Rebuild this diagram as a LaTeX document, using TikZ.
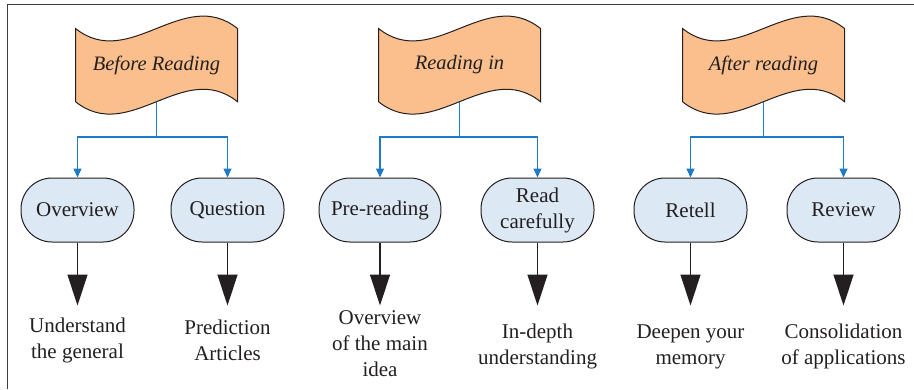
\documentclass[tikz,border=0pt]{standalone}
\usepackage{fontspec}
\setmainfont{Liberation Serif}
\usetikzlibrary{arrows.meta}
\definecolor{bannerfill}{RGB}{250,191,141}
\definecolor{nodefill}{RGB}{220,233,245}
\definecolor{linkblue}{RGB}{30,121,199}
\definecolor{edgegray}{RGB}{35,31,32}
\definecolor{framegray}{RGB}{60,60,60}
\begin{document}
\begin{tikzpicture}[x=1pt,y=-1pt,
  every node/.style={font=\fontsize{21}{26}\selectfont, text=edgegray},
  bannertext/.style={font=\fontsize{20.5}{26}\selectfont\itshape},
  stepnode/.style={draw=edgegray, line width=1pt, fill=nodefill, rounded corners=31pt,
    minimum width=113pt, minimum height=64pt, inner xsep=12pt, inner ysep=2pt, align=center},
  lbl/.style={align=center, inner sep=0pt},
  blueline/.style={draw=linkblue, line width=1.4pt},
  bluearrow/.style={blueline, -{Triangle[width=8pt,length=9pt]}},
  bigarrow/.style={draw=edgegray, line width=1.4pt, -{Triangle[width=20pt,length=31pt]}},
  banner/.pic={
    \draw[fill=bannerfill, draw=edgegray, line width=1pt]
      (-81,-36.5) .. controls (-27,6.5) and (27,-79.5) .. (81,-36.5)
      -- (81,36.7) .. controls (27,-6.3) and (-27,79.7) .. (-81,36.7) -- cycle;
  }
]
\useasboundingbox (0,0) rectangle (914,389);
\draw[framegray, line width=1.5pt] (7.5,389) -- (7.5,4.3) -- (914,4.3);

% banners
\pic at (156.5,65) {banner};
\pic at (459.5,65) {banner};
\pic at (763.5,65) {banner};
\node[bannertext] (b1) at (156.5,65) {Before Reading};
\node[bannertext] (b2) at (459.5,65) {Reading in};
\node[bannertext] (b3) at (763.5,65) {After reading};

\coordinate (b1s) at (156.5,101.7);
\coordinate (b2s) at (459.5,101.7);
\coordinate (b3s) at (763.5,101.7);
\coordinate (j1) at (156.5,137);
\coordinate (j2) at (459.5,137);
\coordinate (j3) at (763.5,137);

% step nodes
\node[stepnode] (n1) at (77.5,210) {Overview};
\node[stepnode] (n2) at (227.5,210) {Question};
\node[stepnode] (n3) at (380,210) {Pre-reading};
\node[stepnode] (n4) at (537.5,210) {Read\\carefully};
\node[stepnode] (n5) at (690.5,210) {Retell};
\node[stepnode] (n6) at (843.5,210) {Review};

% blue connectors
\draw[blueline] (b1s) -- (j1);
\draw[blueline] (b2s) -- (j2);
\draw[blueline] (b3s) -- (j3);
\draw[bluearrow] (j1) -| (n1.north);
\draw[bluearrow] (j1) -| (n2.north);
\draw[bluearrow] (j2) -| (n3.north);
\draw[bluearrow] (j2) -| (n4.north);
\draw[bluearrow] (j3) -| (n5.north);
\draw[bluearrow] (j3) -| (n6.north);

% black arrows
\coordinate (a1) at (77.5,305.5);
\coordinate (a2) at (227.5,305.5);
\coordinate (a3) at (380,305.5);
\coordinate (a4) at (537.5,305.5);
\coordinate (a5) at (690.5,305.5);
\coordinate (a6) at (843.5,305.5);
\draw[bigarrow] (n1) -- (a1);
\draw[bigarrow] (n2) -- (a2);
\draw[bigarrow] (n3) -- (a3);
\draw[bigarrow] (n4) -- (a4);
\draw[bigarrow] (n5) -- (a5);
\draw[bigarrow] (n6) -- (a6);

% result labels
\node[lbl] (t1) at (77.5,340) {Understand\\the general};
\node[lbl] (t2) at (227.5,340) {Prediction\\Articles};
\node[lbl] (t3) at (380,344) {Overview\\of the main\\idea};
\node[lbl] (t4) at (537.5,346.5) {In-depth\\understanding};
\node[lbl] (t5) at (690.5,346.5) {Deepen your\\memory};
\node[lbl] (t6) at (843.5,346.5) {Consolidation\\of applications};
\end{tikzpicture}
\end{document}
